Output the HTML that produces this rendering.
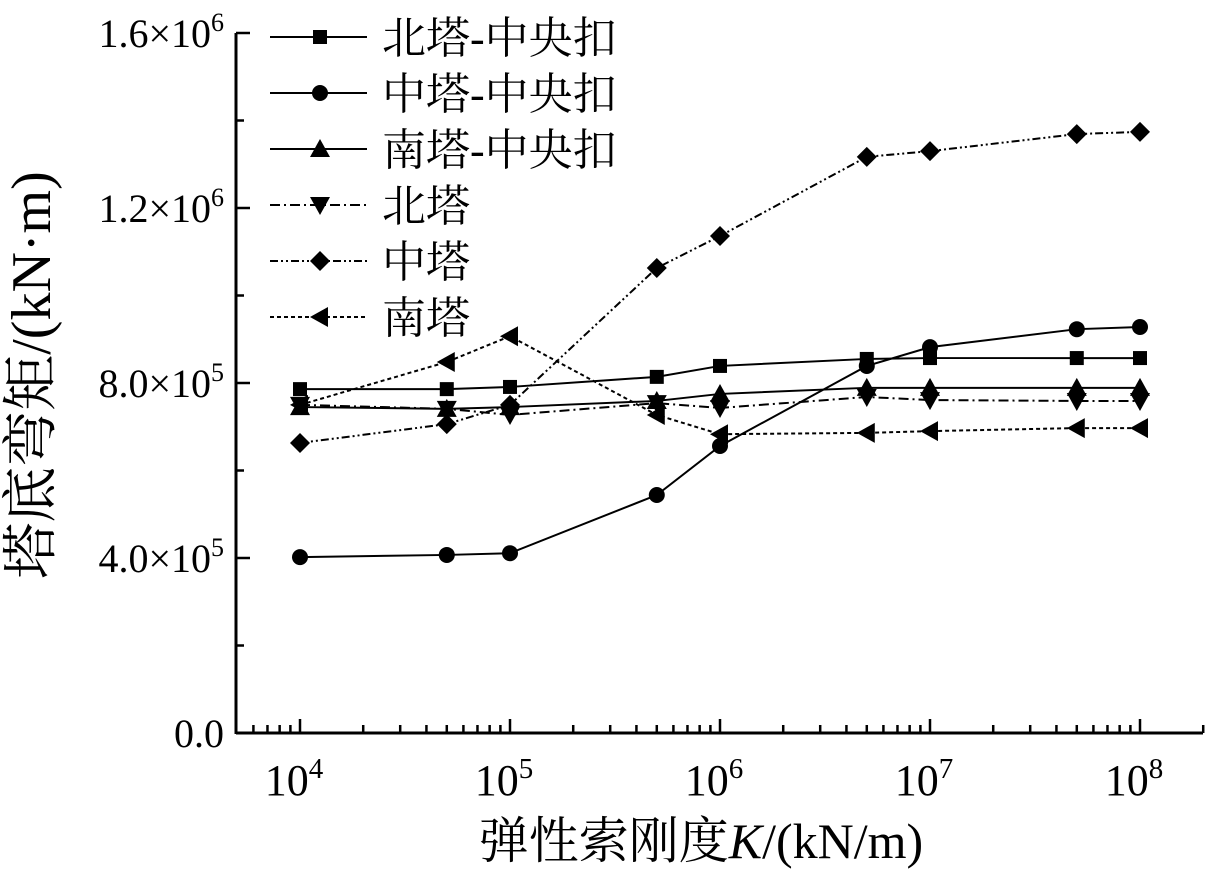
<!DOCTYPE html>
<html><head><meta charset="utf-8"><style>
html,body{margin:0;padding:0;background:#fff;}
svg{display:block;font-family:"Liberation Serif","Noto Serif CJK SC",serif;}
</style></head><body>
<svg id="chart" width="1214" height="873" xmlns="http://www.w3.org/2000/svg">
<g id="axes"></g>
<g id="series"></g>
<g id="legend"></g>
<text x="701" y="858" font-size="50" text-anchor="middle">弹性索刚度<tspan font-style="italic">K</tspan>/(kN/m)</text>
<text transform="translate(50,375) rotate(-90)" font-size="56" text-anchor="middle">塔底弯矩/(kN·m)</text>
</svg>
<script>
const xValues = [1e4, 5e4, 1e5, 5e5, 1e6, 5e6, 1e7, 5e7, 1e8];
const seriesNames = ["北塔-中央扣","中塔-中央扣","南塔-中央扣","北塔","中塔","南塔"];
const northCentral = [786e3, 786e3, 791e3, 814e3, 839e3, 855e3, 857e3, 857e3, 857e3];
const midCentral = [402e3, 407e3, 411e3, 544e3, 656e3, 839e3, 882e3, 923e3, 928e3];
const southCentral = [745e3, 741e3, 745e3, 759e3, 775e3, 789e3, 789e3, 789e3, 789e3];
const northTower = [750e3, 741e3, 727e3, 754e3, 743e3, 768e3, 761e3, 759e3, 759e3];
const midTower = [663e3, 706e3, 750e3, 1063e3, 1136e3, 1317e3, 1330e3, 1369e3, 1374e3];
const southTower = [750e3, 848e3, 907e3, 727e3, 683e3, 686e3, 690e3, 697e3, 697e3];
const yTicks = [0, 4e5, 8e5, 1.2e6, 1.6e6];
const yTickLabels = ["0.0","4.0×10","8.0×10","1.2×10","1.6×10"];
const yTickExp = ["","5","5","6","6"];
const xDecades = [4,5,6,7,8];

const NS="http://www.w3.org/2000/svg";
const X0=236, Y0=733, DEC=210;
function xs(v){return 300+(Math.log10(v)-4)*DEC;}
function ys(v){return Y0-v/1.6e6*700;}
function mk(tag,attrs,parent){const e=document.createElementNS(NS,tag);for(const k in attrs)e.setAttribute(k,attrs[k]);parent.appendChild(e);return e;}
const axes=document.getElementById('axes');
let l=mk('line',{x1:X0,y1:Y0,x2:1203,y2:Y0,stroke:'#000','stroke-width':3},axes);


l=mk('line',{x1:X0,y1:Y0+1,x2:X0,y2:33,stroke:'#000','stroke-width':3},axes);


for(let e=3;e<=8;e++){for(let m=1;m<10;m++){const v=m*Math.pow(10,e);const x=xs(v);if(x<X0+5||x>1205)continue;
 const t=mk('line',{x1:x,y1:Y0,x2:x,y2:Y0-(m===1?14:8),stroke:'#000','stroke-width':2.5},axes);
 
 }}
xDecades.forEach(d=>{const t=mk('text',{x:xs(Math.pow(10,d))-6,y:795,'font-size':44,'text-anchor':'middle'},axes);
 
 
 t.textContent='10';const s=mk('tspan',{dy:-17,'font-size':29},t);s.textContent=d;});
for(let v=2e5;v<=1.6e6;v+=2e5){const y=ys(v);const major=(v%4e5)===0;
 const t=mk('line',{x1:X0,y1:y,x2:X0+(major?14:8),y2:y,stroke:'#000','stroke-width':2.5},axes);
 
 }
yTicks.forEach((v,i)=>{const t=mk('text',{x:224,y:ys(v)+14,'font-size':40,'text-anchor':'end'},axes);
 
 
 if(yTickExp[i]){t.textContent=yTickLabels[i];const s=mk('tspan',{dy:-16,'font-size':26},t);s.textContent=yTickExp[i];}
 else t.textContent=yTickLabels[i];});
const styles=[
 {data:northCentral,dash:'',m:'square'},
 {data:midCentral,dash:'',m:'circle'},
 {data:southCentral,dash:'',m:'up'},
 {data:northTower,dash:'10,4,2,4',m:'down'},
 {data:midTower,dash:'8,3,2,3,2,3',m:'diamond'},
 {data:southTower,dash:'4,3',m:'left'}];
function marker(type,x,y,p){let e;
 if(type==='square')e=mk('rect',{x:x-7,y:y-7,width:14,height:14},p);
 else if(type==='circle')e=mk('circle',{cx:x,cy:y,r:8},p);
 else if(type==='up')e=mk('polygon',{points:`${x},${y-10} ${x-10},${y+8} ${x+10},${y+8}`},p);
 else if(type==='down')e=mk('polygon',{points:`${x},${y+10} ${x-10},${y-8} ${x+10},${y-8}`},p);
 else if(type==='diamond')e=mk('polygon',{points:`${x},${y-10} ${x+10},${y} ${x},${y+10} ${x-10},${y}`},p);
 else e=mk('polygon',{points:`${x-10},${y} ${x+8},${y-10} ${x+8},${y+10}`},p);
 e.setAttribute('fill','#000');return e;}
const sg=document.getElementById('series');
styles.forEach((s,i)=>{const g=mk('g',{},sg);
 
 
 const pts=s.data.map((v,j)=>xs(xValues[j])+','+ys(v)).join(' ');
 const pl=mk('polyline',{points:pts,fill:'none',stroke:'#000','stroke-width':2,'stroke-dasharray':s.dash},g);
 
 
 s.data.forEach((v,j)=>{const m=marker(s.m,xs(xValues[j]),ys(v),g);
  
  });});
const lg=document.getElementById('legend');
styles.forEach((s,i)=>{const y=37+i*56;const g=mk('g',{},lg);
 
 
 mk('line',{x1:270,y1:y,x2:367,y2:y,stroke:'#000','stroke-width':2,'stroke-dasharray':s.dash},g);
 marker(s.m,320,y,g);
 const t=mk('text',{x:382,y:y+16,'font-size':44},g);t.textContent=seriesNames[i];});
</script>
</body></html>
